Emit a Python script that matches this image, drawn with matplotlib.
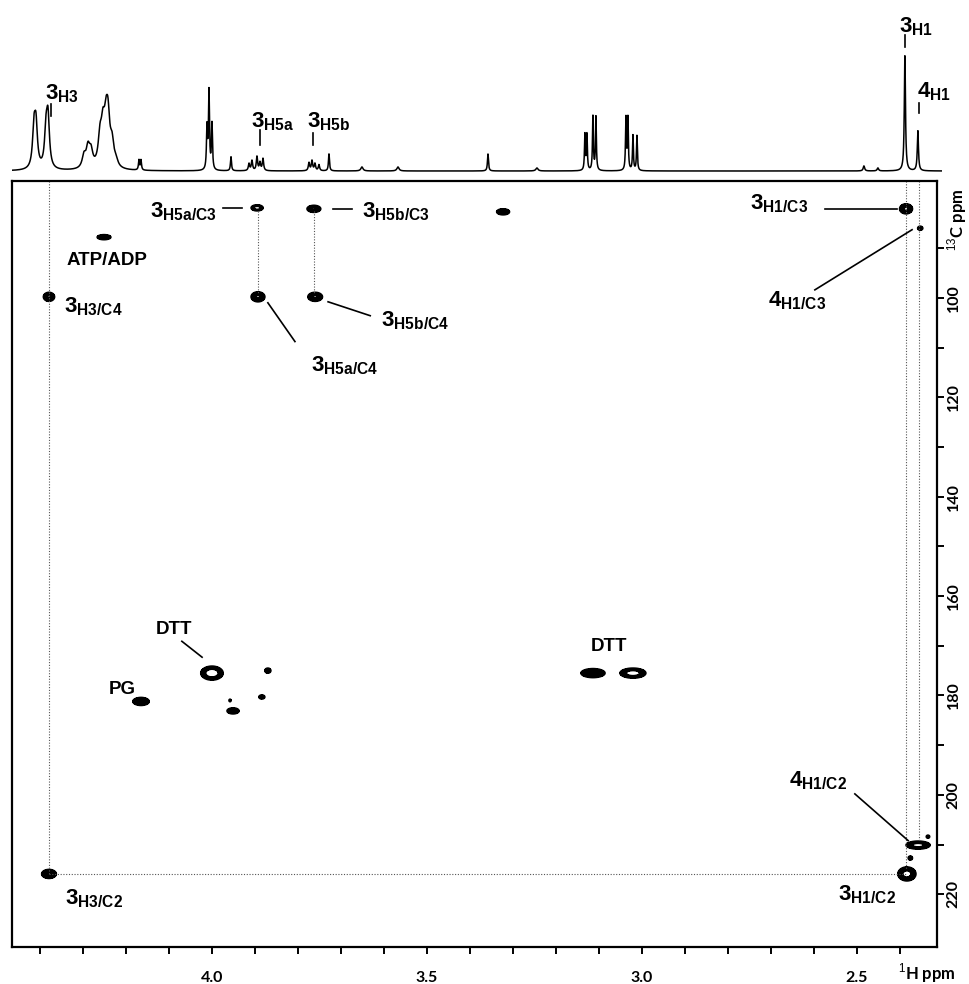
# HMBC-style 2D spectrum with 1H trace on top
import numpy as np
import matplotlib
matplotlib.use("Agg")
import matplotlib.pyplot as plt

plt.rcParams["mathtext.fontset"] = "custom"
plt.rcParams["mathtext.bf"] = "Liberation Sans:bold"
plt.rcParams["mathtext.rm"] = "Liberation Sans"
plt.rcParams["font.family"] = ["Liberation Sans", "DejaVu Sans"]

# ── 1D 1H trace: peak list (ppm, height, half-width) ──────
h1_ppm = [4.4138, 4.4092, 4.3859, 4.3813,
          4.2976, 4.2883, 4.2813, 4.2603, 4.2534, 4.2464, 4.2417, 4.2324, 4.2231,
          4.1697, 4.1650,
          4.0115, 4.0069, 3.9999, 3.9557,
          3.9138, 3.9069, 3.8953, 3.8883, 3.8813,
          3.7743, 3.7673, 3.7604, 3.7511, 3.7278,
          3.6511, 3.5673, 3.3580, 3.2441,
          3.1325, 3.1278, 3.1139, 3.1069,
          3.0371, 3.0325, 3.0208, 3.0115,
          2.4836, 2.4511, 2.3883, 2.3581]
h1_height = [38, 40, 34, 48,
             12, 19, 15, 27, 34, 34, 42, 22, 6,
             10, 10,
             42, 78, 46, 14,
             7, 10, 14, 8, 12,
             8, 10, 7, 6, 17,
             4, 4, 17, 3,
             36, 36, 54, 54,
             52, 52, 35, 35,
             5, 3, 116, 40]
h1_width = [0.004, 0.004, 0.004, 0.004,
            0.005, 0.005, 0.005, 0.005, 0.005, 0.005, 0.005, 0.005, 0.005,
            0.0014, 0.0014,
            0.0014, 0.0014, 0.0014, 0.0014,
            0.0018, 0.0018, 0.0018, 0.0018, 0.0018,
            0.0018, 0.0018, 0.0018, 0.0018, 0.0014,
            0.003, 0.003, 0.0014, 0.003,
            0.0012, 0.0012, 0.0012, 0.0012,
            0.0012, 0.0012, 0.0012, 0.0012,
            0.002, 0.002, 0.0016, 0.0016]

# ── 2D cross peaks: 1H ppm, 13C ppm, half-widths, level ───
xp_h = [3.895, 3.763, 2.386, 2.353, 3.323, 4.251, 4.379, 3.893, 3.760,
        4.000, 3.870, 3.884, 3.958, 3.951, 4.165, 3.114, 3.021,
        2.384, 2.358, 2.376, 2.335, 4.379]
xp_c = [81.9, 82.1, 82.1, 86.0, 82.7, 87.8, 99.8, 99.8, 99.8,
        175.5, 175.0, 180.3, 181.0, 183.1, 181.2, 175.5, 175.5,
        215.9, 210.1, 212.7, 208.4, 215.9]
xp_wh = [0.014, 0.016, 0.015, 0.006, 0.015, 0.016, 0.013, 0.016, 0.017,
         0.026, 0.007, 0.007, 0.0025, 0.014, 0.019, 0.028, 0.030,
         0.021, 0.028, 0.005, 0.004, 0.017]
xp_wc = [0.6, 0.7, 1.0, 0.4, 0.6, 0.5, 0.9, 1.0, 0.9,
         1.4, 0.5, 0.4, 0.25, 0.6, 0.8, 0.9, 1.0,
         1.4, 0.8, 0.4, 0.3, 0.9]
xp_amp = [4.5, 3.3, 3.4, 2.5, 2.5, 2.5, 3.3, 3.3, 3.3,
          5.0, 3.3, 3.3, 2.0, 2.5, 2.5, 2.5, 4.5,
          4.0, 4.0, 3.3, 2.0, 2.5]

# axis ranges
H_LEFT, H_RIGHT = 4.465, 2.314
C_TOP, C_BOT = 76.5, 230.6

fig = plt.figure(figsize=(9.69, 9.84), dpi=100)
ax = fig.add_axes([12/969, 37/984, 925/969, 766/984])
ax_top = fig.add_axes([12/969, (984-176)/984, 930/969, 176/984])

# ── top trace ─────────────────────────────────────────────
x1 = np.linspace(4.47, 2.30, 8000)
y1 = np.zeros_like(x1)
for p, h, w in zip(h1_ppm, h1_height, h1_width):
    y1 += h * w**2 / ((x1 - p)**2 + w**2)
ax_top.plot(x1, y1, color="black", lw=1.1)
ax_top.set_xlim(H_LEFT, 2.302)
ax_top.set_ylim(-5, 171)
ax_top.axis("off")

LBL = 16

def lab(a, x, y, main, sub, size=LBL, ha="left"):
    a.text(x, y, r"$\mathbf{%s}_{\mathbf{%s}}$" % (main, sub), fontsize=size,
           ha=ha, va="baseline", clip_on=False)

lab(ax_top, 4.388, 72, "3", "H3")
ax_top.plot([4.374, 4.374], [55, 67], color="black", lw=1.2)
lab(ax_top, 3.909, 44, "3", "H5a")
ax_top.plot([3.888, 3.888], [26, 41], color="black", lw=1.2)
lab(ax_top, 3.779, 44, "3", "H5b")
ax_top.plot([3.765, 3.765], [26, 38], color="black", lw=1.2)
lab(ax_top, 2.403, 139, "3", "H1")
ax_top.plot([2.388, 2.388], [124, 136], color="black", lw=1.2)
lab(ax_top, 2.361, 74, "4", "H1")
ax_top.plot([2.356, 2.356], [58, 68], color="black", lw=1.2)

# ── 2D contour map ────────────────────────────────────────
hh = np.linspace(4.47, 2.30, 2600)
cc = np.linspace(75, 232, 1000)
HH, CC = np.meshgrid(hh, cc)
Z = np.zeros_like(HH)
for h0, c0, wh, wc, a in zip(xp_h, xp_c, xp_wh, xp_wc, xp_amp):
    sh = wh / np.sqrt(2*np.log(a))
    sc = wc / np.sqrt(2*np.log(a))
    Z += a * np.exp(-0.5*((HH-h0)/sh)**2 - 0.5*((CC-c0)/sc)**2)
ax.contourf(HH, CC, Z, levels=[1, 3], colors="black")
ax.contour(HH, CC, Z, levels=[1, 3], colors="black", linewidths=1.2)

# dotted guide lines
dot = dict(color="#555555", lw=0.8, ls=(0, (1, 1.5)))
ax.plot([4.379, 4.379], [C_TOP, 215.9], **dot)
ax.plot([4.379, 2.384], [215.9, 215.9], **dot)
ax.plot([3.893, 3.893], [82.5, 99.0], **dot)
ax.plot([3.762, 3.762], [82.5, 99.0], **dot)
ax.plot([2.387, 2.387], [C_TOP, 215.0], **dot)
ax.plot([2.355, 2.355], [C_TOP, 209.5], **dot)

# labels and leader lines
lk = dict(color="black", lw=1.2)
lab(ax, 4.144, 83.9, "3", "H5a/C3")
ax.plot([3.974, 3.930], [81.9, 81.9], **lk)
lab(ax, 3.651, 83.9, "3", "H5b/C3")
ax.plot([3.718, 3.674], [82.1, 82.1], **lk)
lab(ax, 2.749, 82.3, "3", "H1/C3")
ax.plot([2.574, 2.407], [82.1, 82.1], **lk)
lab(ax, 2.707, 101.8, "4", "H1/C3")
ax.plot([2.598, 2.372], [98.4, 86.3], **lk)
ax.text(4.339, 93.4, "ATP/ADP", fontsize=13.5, fontweight="bold", va="baseline")
lab(ax, 4.344, 103.0, "3", "H3/C4")
lab(ax, 3.770, 114.9, "3", "H5a/C4")
ax.plot([3.870, 3.807], [101.0, 108.8], **lk)
lab(ax, 3.607, 105.8, "3", "H5b/C4")
ax.plot([3.730, 3.632], [100.8, 103.6], **lk)
ax.text(4.089, 167.7, "DTT", fontsize=13.5, fontweight="bold", ha="center", va="baseline")
ax.plot([4.070, 4.023], [169.1, 172.3], **lk)
ax.text(4.208, 179.7, "PG", fontsize=13.5, fontweight="bold", ha="center", va="baseline")
ax.text(3.077, 171.1, "DTT", fontsize=13.5, fontweight="bold", ha="center", va="baseline")
lab(ax, 2.658, 198.2, "4", "H1/C2")
ax.plot([2.505, 2.381], [199.8, 209.2], **lk)
lab(ax, 2.544, 221.3, "3", "H1/C2")
lab(ax, 4.342, 222.1, "3", "H3/C2")

# axes, ticks
ax.set_xlim(H_LEFT, H_RIGHT)
ax.set_ylim(C_BOT, C_TOP)
for s in ax.spines.values():
    s.set_linewidth(1.6)
ax.yaxis.tick_right()
ax.set_xticks([4.0, 3.5, 3.0, 2.5])
ax.set_xticks(np.arange(2.4, 4.41, 0.1), minor=True)
ax.set_yticks(np.arange(100, 221, 20))
ax.set_yticks(np.arange(90, 211, 20), minor=True)
ax.tick_params(which="both", direction="out", length=5, width=1.4,
               top=False, left=False)
ax.tick_params(axis="x", pad=12)
ax.tick_params(axis="y", pad=2)
for t in ax.get_xticklabels():
    t.set_fontfamily("Lato")
    t.set_fontweight("bold")
    t.set_fontsize(11.5)
for t in ax.get_yticklabels():
    t.set_fontfamily("Lato")
    t.set_fontweight("bold")
    t.set_fontsize(11.5)
    t.set_rotation(90)
    t.set_va("center")

ax.text(0.989, -0.034, "$^{1}$H ppm", transform=ax.transAxes, fontsize=12,
        fontfamily="Lato", fontweight="bold", ha="center", va="center")
ax.text(1.0216, 0.949, "$^{13}$C ppm", transform=ax.transAxes, fontsize=12,
        fontfamily="Lato", fontweight="bold", ha="center", va="center",
        rotation=90)

fig.savefig("out.png", dpi=100)
